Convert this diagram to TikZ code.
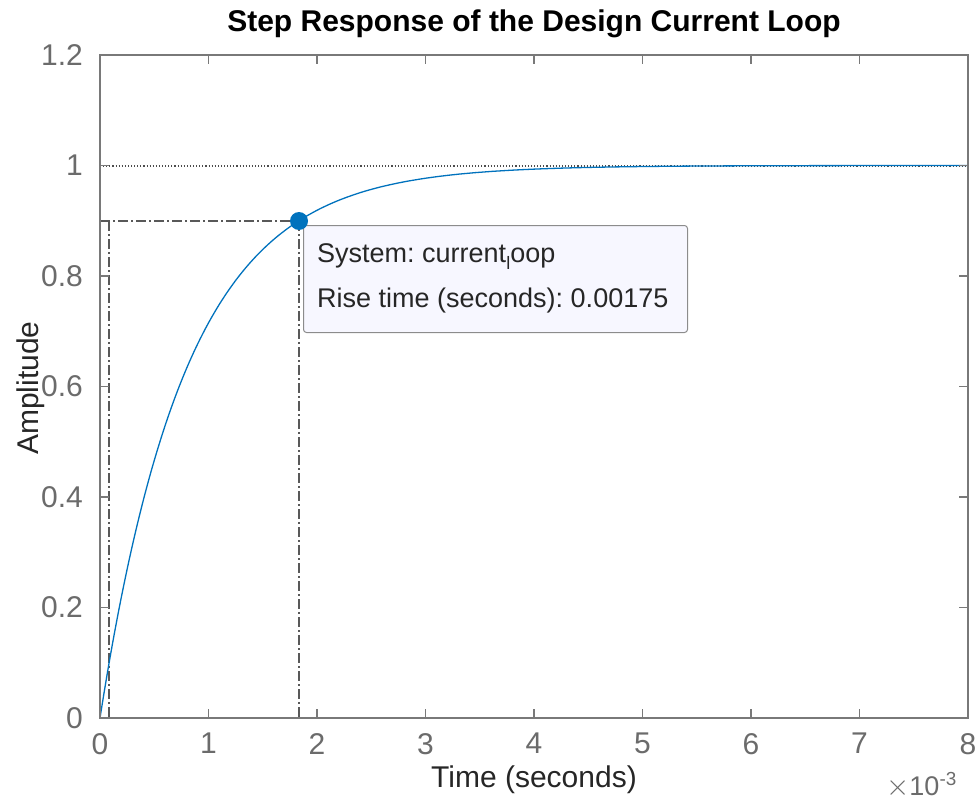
\documentclass[tikz,border=0pt]{standalone}
\usepackage{fontspec}
\setmainfont{Liberation Sans}
\frenchspacing
\begin{document}
\begin{tikzpicture}[x=1pt,y=-1pt,
  axisline/.style={draw=gray!95!black,line width=1.3pt},
  ticklbl/.style={text=black!58,font=\fontsize{30}{30}\selectfont,inner sep=0pt},
  axlbl/.style={text=black!85,font=\fontsize{30}{30}\selectfont,inner sep=0pt},
  guide/.style={draw=black!65,line width=1.1pt,dash pattern=on 10pt off 3pt on 2pt off 3pt},
  tipbox/.style={draw=black!45,fill=blue!3!white,rounded corners=3pt,line width=1pt},
  tiptext/.style={text=black!85,font=\fontsize{27}{27}\selectfont,inner sep=0pt,anchor=west}]
\useasboundingbox (0,0) rectangle (979,805);
% title
\node[font=\bfseries\fontsize{30}{30}\selectfont,inner sep=0pt] (title) at (534,24) {Step Response of the Design Current Loop};
% reference level y=1
\draw[black!70,line width=1.1pt,dotted] (100,166) -- (968,166);
% rise time guides (10 % and 90 %)
\coordinate (p90) at (299,221);
\draw[guide] (100,221) -- (p90);
\draw[guide] (p90) -- (299,718);
\draw[guide] (109,221) -- (109,718);
% step response curve
\draw[color={rgb,255:red,0;green,114;blue,189},line width=1.3pt]
  plot[domain=0:868,samples=240,smooth] ({100+\x},{718-552.5*(1-exp(-\x/86.4))});
% axes box and ticks
\draw[axisline] (100,55) rectangle (968,718);
\foreach \i in {0,...,8}{
  \pgfmathsetmacro{\xx}{100+108.5*\i}
  \draw[axisline] (\xx,718) -- (\xx,709);
  \draw[axisline] (\xx,55) -- (\xx,64);
  \node[ticklbl,anchor=north] (xt\i) at (\xx,733) {\i};
}
\foreach \v/\lab in {0/0,1/0.2,2/0.4,3/0.6,4/0.8,5/1,6/1.2}{
  \pgfmathsetmacro{\yy}{718-110.5*\v}
  \draw[axisline] (100,\yy) -- (109,\yy);
  \draw[axisline] (968,\yy) -- (959,\yy);
  \node[ticklbl,anchor=east] (yt\v) at (83,\yy) {\lab};
}
% axis labels
\node[axlbl] (xlabel) at (534,780) {Time (seconds)};
\node[axlbl,rotate=90] (ylabel) at (31,388) {Amplitude};
\node[ticklbl,font=\fontsize{27}{27}\selectfont,anchor=base east] (expo) at (957,795) {\scalebox{1.2}{$\times$}10\textsuperscript{-3}};
% data tip
\node[tipbox,minimum width=384pt,minimum height=107pt,anchor=north west] (tip) at (303,225) {};
\node[tiptext] (tip1) at (317,257) {System: current\raisebox{-7pt}{\fontsize{18}{18}\selectfont l}oop};
\node[tiptext] (tip2) at (317,301) {Rise time (seconds): 0.00175};
\fill[color={rgb,255:red,0;green,114;blue,189}] (p90) circle (9pt);
\end{tikzpicture}
\end{document}
